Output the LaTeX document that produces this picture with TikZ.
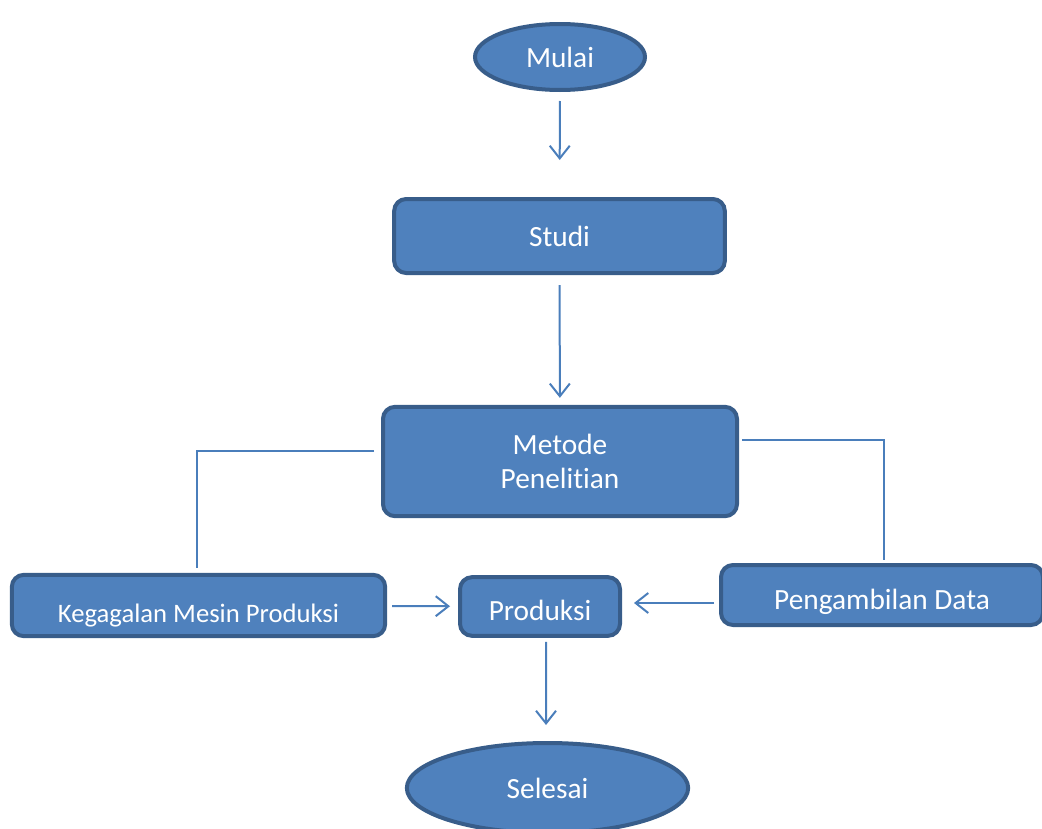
\documentclass[tikz,border=0pt]{standalone}
\usepackage{fontspec}
\setmainfont{Carlito}[Ligatures=NoCommon]
\usetikzlibrary{positioning, calc, shapes.geometric, arrows.meta}
\definecolor{boxFill}{HTML}{4F81BD}
\definecolor{boxLine}{HTML}{385D8A}
\definecolor{linkLine}{HTML}{4A7EBB}
\tikzset{
    Box/.style = {
        rectangle, rounded corners=9pt,
        fill=boxFill, draw=boxLine, line width=3pt,
        text=white, align=center, inner sep=0pt,
        font=\fontsize{22}{25.5}\selectfont
    },
    Oval/.style = {
        Box, ellipse, rounded corners=0pt
    },
    Arrow/.style = {
        draw=linkLine, line width=1.5pt,
        -{Straight Barb[length=9.5pt, width=15pt, line width=1.5pt]}
    },
    Line/.style = {
        draw=linkLine, line width=1.5pt
    }
}
\begin{document}
\begin{tikzpicture}[x=0.75pt, y=-0.75pt]
    \useasboundingbox (0,0) rectangle (1042,828);
    \clip (0,0) rectangle (1042,828);

    % start and study
    \node[Oval, minimum width=127.5pt, minimum height=49.5pt] (mulai) at (560,57) {Mulai};
    \node[Box, minimum width=248pt, minimum height=55.5pt] (studi) at (559.5,236) {Studi};
    \node[Box, minimum width=265.5pt, minimum height=82pt] (metode) at (560,461.5) {Metode\\Penelitian};
    \draw[Arrow, shorten <=6.75pt, shorten >=27.75pt] (mulai) -- (studi);
    \draw[Arrow, shorten <=7.5pt, shorten >=5.25pt] (studi) -- (metode);

    % bottom row
    \node[Box, font=\fontsize{20}{24}\selectfont, text height=29pt, text depth=4pt,
        minimum width=280pt, minimum height=46pt] (kegagalan) at (198.5,605.5) {Kegagalan Mesin Produksi};
    \node[Box, text height=21.4pt, text depth=0pt,
        minimum width=120pt, minimum height=44pt] (produksi) at (540,606.5) {Produksi};
    \node[Box, text height=25.9pt, text depth=4.5pt,
        minimum width=241.5pt, minimum height=45pt] (pengambilan) at (882,595) {Pengambilan Data};
    \draw[Line] ([shift={(-7,-10.5)}]metode.west) -| ([shift={(-1.5,-5)}]kegagalan.north);
    \draw[Line] ([shift={(3,-21.5)}]metode.east) -| ([shift={(2,-3)}]pengambilan.north);
    \draw[Arrow, shorten <=3.75pt, shorten >=6pt] (kegagalan) -- (produksi);
    \draw[Arrow, shorten <=3.75pt, shorten >=9pt] ([shift={(0,8)}]pengambilan.west) -- ([shift={(0,-3.5)}]produksi.east);

    % end
    \node[Oval, minimum width=211pt, minimum height=67.5pt] (selesai) at (547.5,788) {Selesai};
    \draw[Arrow, shorten <=3pt, shorten >=12pt] ([xshift=4.5pt]produksi.south) -- ([xshift=-1.1pt]selesai.north);
\end{tikzpicture}
\end{document}
